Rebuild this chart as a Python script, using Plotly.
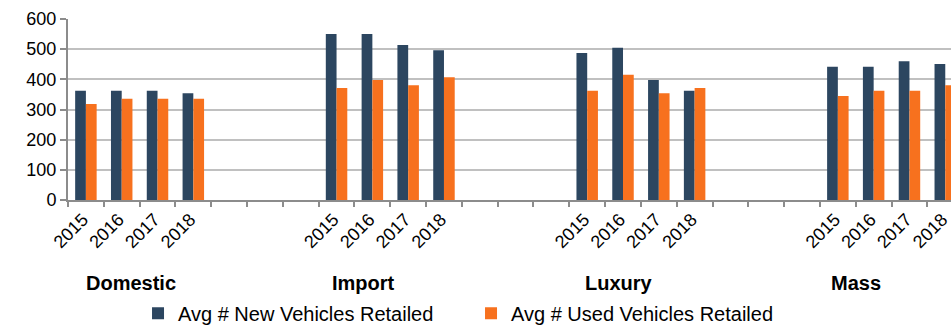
import plotly.graph_objects as go

# Segments and model years
segments = ["Domestic", "Import", "Luxury", "Mass"]
years = ["2015", "2016", "2017", "2018"]

# Average vehicles retailed per dealership
new_vehicles = {
    "Domestic": [362, 362, 362, 354],
    "Import": [550, 550, 514, 496],
    "Luxury": [487, 505, 398, 362],
    "Mass": [442, 442, 460, 451],
}
used_vehicles = {
    "Domestic": [318, 336, 336, 336],
    "Import": [371, 398, 380, 407],
    "Luxury": [362, 415, 354, 371],
    "Mass": [345, 362, 362, 380],
}

# Segment label positions along the slot axis
segment_label_x = [1.25, 7.75, 14.9, 21.5]

SLOTS_PER_SEGMENT = 7          # 4 years + 3 empty slots
NAVY = "#2C4660"
ORANGE = "#F7711E"
GRID = "#C0C0C0"
AXIS = "#8C8C8C"
FONT = "Liberation Sans, Arial, sans-serif"

xs, new_y, used_y, tick_vals, tick_text = [], [], [], [], []
for s_idx, seg in enumerate(segments):
    start = s_idx * SLOTS_PER_SEGMENT
    for y_idx, yr in enumerate(years):
        x = start + y_idx
        xs.append(x)
        new_y.append(new_vehicles[seg][y_idx])
        used_y.append(used_vehicles[seg][y_idx])
        tick_vals.append(x)
        tick_text.append(yr)

n_slots = SLOTS_PER_SEGMENT * (len(segments) - 1) + len(years)
boundaries = [i - 0.5 for i in range(n_slots + 1)]

fig = go.Figure()
fig.add_trace(go.Bar(x=xs, y=new_y, name="Avg # New Vehicles Retailed",
                     marker=dict(color=NAVY, line=dict(width=0))))
fig.add_trace(go.Bar(x=xs, y=used_y, name="Avg # Used Vehicles Retailed",
                     marker=dict(color=ORANGE, line=dict(width=0))))

for label, lx in zip(segments, segment_label_x):
    fig.add_annotation(x=lx, xref="x", y=-0.46, yref="paper", text=f"<b>{label}</b>",
                       showarrow=False, xanchor="center", yanchor="middle",
                       font=dict(family=FONT, size=20, color="black"))

fig.update_layout(
    width=951, height=327,
    margin=dict(l=68, r=0, t=19, b=127, autoexpand=False),
    paper_bgcolor="white", plot_bgcolor="white",
    barmode="group", bargap=0.4, bargroupgap=0,
    font=dict(family=FONT, size=17, color="black"),
    showlegend=True,
    legend=dict(orientation="h", x=0.0793, xanchor="left",
                y=-0.625, yanchor="middle", font=dict(size=20),
                traceorder="normal", itemwidth=30, entrywidth=288),
    xaxis=dict(
        range=[-0.5, 24.16],
        tickvals=tick_vals, ticktext=tick_text, tickangle=-45,
        ticklabeloverflow="allow", ticklabelshift=-3,
        ticks="", showgrid=False, zeroline=False,
        showline=True, linecolor=AXIS, linewidth=2,
        tickfont=dict(size=18),
        minor=dict(tickvals=boundaries, ticks="outside", ticklen=5,
                   tickcolor=AXIS, tickwidth=2, showgrid=False),
    ),
    yaxis=dict(
        range=[0, 600], dtick=100, tick0=0,
        showgrid=True, gridcolor=GRID, gridwidth=2,
        zeroline=False, showline=True, linecolor=AXIS, linewidth=2,
        ticks="outside", ticklen=6, tickcolor=AXIS, tickwidth=2,
        tickfont=dict(size=18),
    ),
)

fig.write_html("out.html")
